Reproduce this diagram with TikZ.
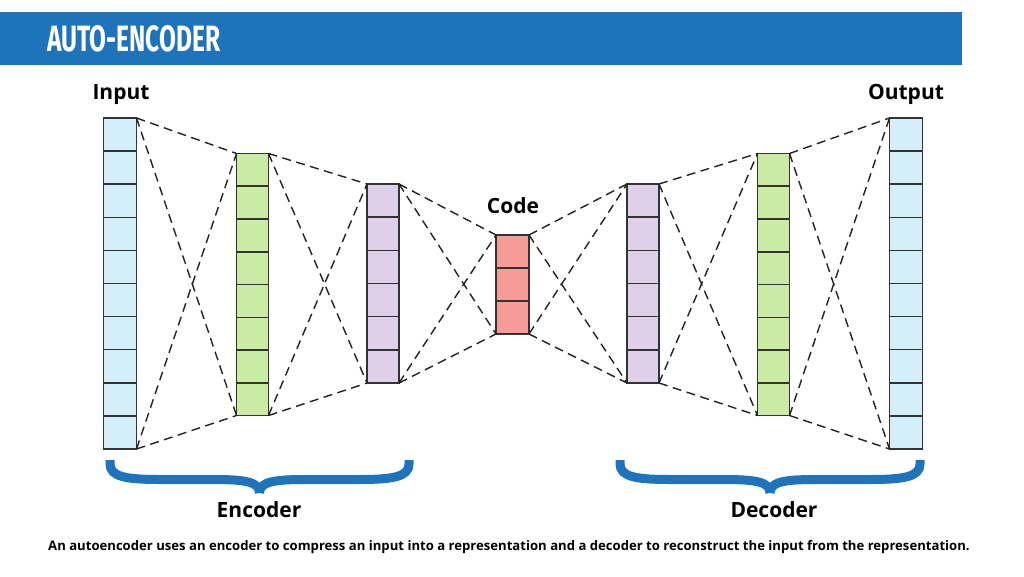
\documentclass[tikz,border=0pt]{standalone}
\usepackage{fontspec}
\setmainfont{Open Sans}
\newfontfamily\titlefont{Fira Sans}
\usetikzlibrary{calc}
\definecolor{barblue}{HTML}{1F73BA}
\definecolor{inblue}{HTML}{D4EEFA}
\definecolor{lgreen}{HTML}{C9EBA3}
\definecolor{lpurple}{HTML}{DDD0E8}
\definecolor{lred}{HTML}{F59C97}
\definecolor{edgegray}{HTML}{333333}
\definecolor{dashgray}{HTML}{222222}
\tikzset{
  colbox/.style={draw=edgegray, line width=1.5pt, inner sep=0pt, outer sep=0pt},
  cellline/.style={draw=edgegray, line width=1.5pt},
  conn/.style={draw=dashgray, line width=1.4pt, dash pattern=on 9pt off 5.5pt},
  lbl/.style={font=\bfseries\fontsize{21}{24}\selectfont, anchor=base, inner sep=0pt},
  bracestroke/.style={draw=barblue, line width=9pt, line cap=butt},
}
% name, cx, ytop, ybot, width, ncells, fill
\newcommand{\nncol}[7]{%
  \pgfmathsetmacro\nnh{#4-#3}%
  \node[colbox, fill=#7, minimum width=#5pt, minimum height=\nnh pt] (#1) at (#2,{(#3+#4)/2}) {};
  \pgfmathtruncatemacro\nnlast{#6-1}%
  \foreach \k in {1,...,\nnlast} {
    \draw[cellline] ($(#1.north west)!{\k/#6}!(#1.south west)$) -- ($(#1.north east)!{\k/#6}!(#1.south east)$);
  }
}
\newcommand{\nnlink}[2]{%
  \draw[conn] (#1.north east) -- (#2.north west);
  \draw[conn] (#1.north east) -- (#2.south west);
  \draw[conn] (#1.south east) -- (#2.north west);
  \draw[conn] (#1.south east) -- (#2.south west);
}
% left, right, top, tip
\newcommand{\nnbrace}[4]{%
  \pgfmathsetmacro\nnm{(#1+#2)/2}%
  \draw[bracestroke] ({#1+5},#3) -- ({#1+5},{#3+4}) .. controls ({#1+5},{#3+17}) and ({#1+22},{#3+19.5}) .. ({#1+55},{#3+19.5})
     -- ({\nnm-45},{#3+19.5}) .. controls ({\nnm-14},{#3+19.5}) and (\nnm,{#3+22}) .. (\nnm,#4);
  \draw[bracestroke] ({#2-5},#3) -- ({#2-5},{#3+4}) .. controls ({#2-5},{#3+17}) and ({#2-22},{#3+19.5}) .. ({#2-55},{#3+19.5})
     -- ({\nnm+45},{#3+19.5}) .. controls ({\nnm+14},{#3+19.5}) and (\nnm,{#3+22}) .. (\nnm,#4);
}
\begin{document}
\begin{tikzpicture}[x=1pt,y=-1pt]
\useasboundingbox (0,0) rectangle (1024,577);
% title bar
\node[fill=barblue, minimum width=962pt, minimum height=53pt, inner sep=0pt, outer sep=0pt, anchor=north west] (bar) at (0,12) {};
\node[anchor=base west, inner sep=0pt, text=white] (title) at (47,52)
  {\resizebox{173pt}{26pt}{\titlefont\bfseries AUTO-ENCODER}};
% columns
\nncol{inp}{120}{118}{449}{33}{10}{inblue}
\nncol{ea}{252.5}{153.5}{415.5}{32}{8}{lgreen}
\nncol{eb}{383}{184}{383}{32}{6}{lpurple}
\nncol{code}{512.5}{235}{334}{33}{3}{lred}
\nncol{da}{643}{184}{383}{32}{6}{lpurple}
\nncol{db}{773.5}{153.5}{415.5}{32}{8}{lgreen}
\nncol{out}{906}{118}{449}{33}{10}{inblue}
% connections
\nnlink{inp}{ea}
\nnlink{ea}{eb}
\nnlink{eb}{code}
\nnlink{code}{da}
\nnlink{da}{db}
\nnlink{db}{out}
% labels
\node[lbl] (linp) at (121,100) {Input};
\node[lbl] (lout) at (906,99.5) {Output};
\node[lbl] (lcode) at (513,214) {Code};
\node[lbl] (lenc) at (259,517) {Encoder};
\node[lbl] (ldec) at (774,517) {Decoder};
% braces
\nnbrace{105}{414}{460}{493}
\nnbrace{615}{925}{460}{493}
% caption
\node[anchor=base west, inner sep=0pt, font=\bfseries\fontsize{13.12}{15}\selectfont] (cap) at (48,550)
  {An autoencoder uses an encoder to compress an input into a representation and a decoder to reconstruct the input from the representation.};
\end{tikzpicture}
\end{document}
